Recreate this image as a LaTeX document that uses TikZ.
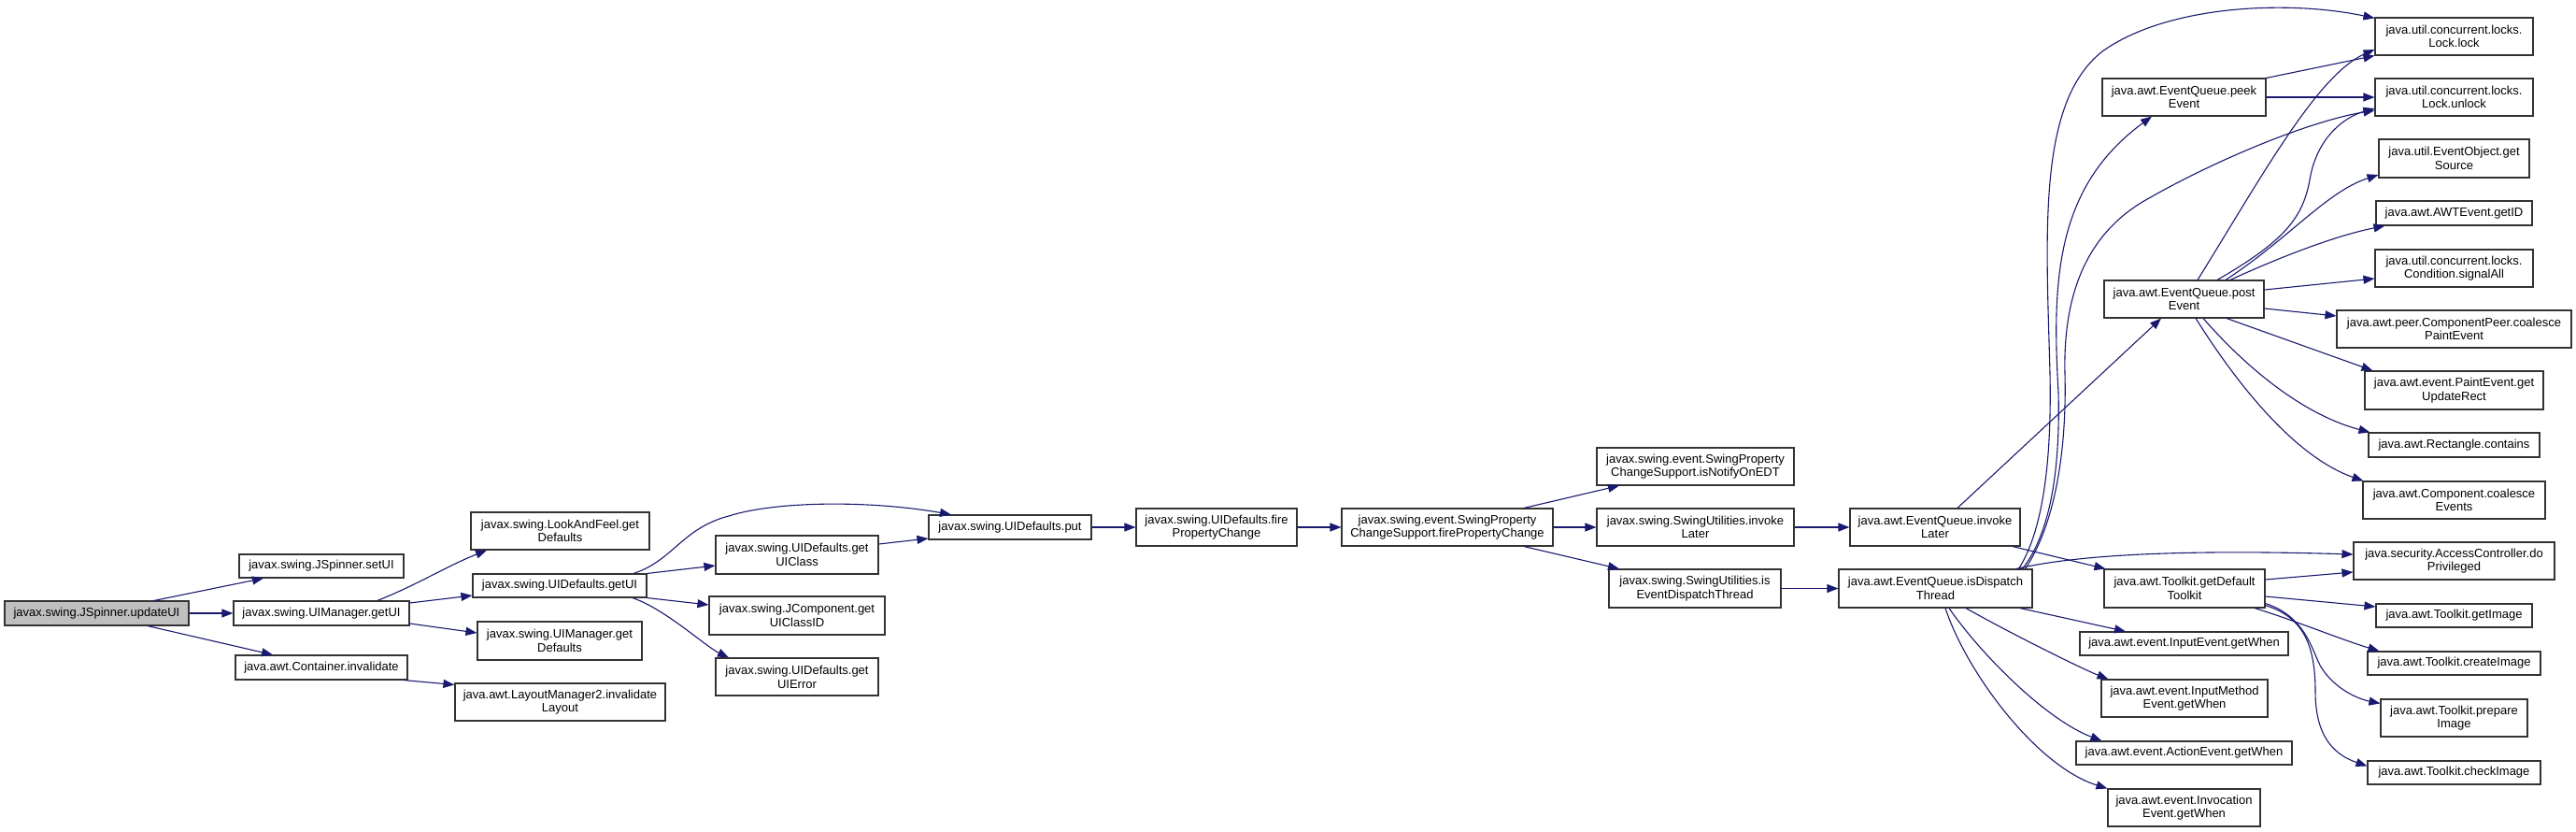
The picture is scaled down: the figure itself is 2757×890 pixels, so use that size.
\documentclass[tikz,border=0pt]{standalone}
\usepackage{fontspec}
\setmainfont{Liberation Sans}
\usetikzlibrary{arrows.meta}
\definecolor{navy}{RGB}{25,25,112}
\definecolor{grayfill}{RGB}{191,191,191}
\tikzset{
  box/.style={draw=black!80, line width=1.1pt, fill=white, align=center, inner sep=0pt,
    font=\fontsize{13}{14.7}\selectfont},
  edge/.style={draw=navy, line width=1.1pt, -{Triangle[length=12pt,width=9pt]}}
}
\newcommand\bx[7][white]{\node[box,fill=#1,minimum width=#5pt,minimum height=#6pt] (#2) at (#3,#4) {#7};}
\begin{document}
\begin{tikzpicture}[x=1pt,y=-1pt]
\useasboundingbox (0,0) rectangle (2757,890);
% nodes
\bx[grayfill]{updateUI}{103.5}{656}{197}{26}{javax.swing.JSpinner.updateUI}
\bx{setUI}{344}{605.5}{176}{25}{javax.swing.JSpinner.setUI}
\bx{mgetUI}{344}{656}{188}{26}{javax.swing.UIManager.getUI}
\bx{cinval}{344}{714}{184}{26}{java.awt.Container.invalidate}
\bx{lafdef}{599.5}{568}{191}{40}{javax.swing.LookAndFeel.get\\Defaults}
\bx{dgetUI}{599}{626.5}{186}{25}{javax.swing.UIDefaults.getUI}
\bx{mgetdef}{599}{685.5}{176}{41}{javax.swing.UIManager.get\\Defaults}
\bx{lminv}{599.5}{751}{225}{40}{java.awt.LayoutManager2.invalidate\\Layout}
\bx{getUIClass}{853}{593.5}{174}{41}{javax.swing.UIDefaults.get\\UIClass}
\bx{getUIClassID}{853}{658.5}{188}{41}{javax.swing.JComponent.get\\UIClassID}
\bx{getUIError}{853}{724}{174}{40}{javax.swing.UIDefaults.get\\UIError}
\bx{put}{1081}{564}{174}{26}{javax.swing.UIDefaults.put}
\bx{fpc}{1302}{564}{172}{40}{javax.swing.UIDefaults.fire\\PropertyChange}
\bx{spcs}{1549}{564}{226}{40}{javax.swing.event.SwingProperty\\ChangeSupport.firePropertyChange}
\bx{notify}{1814.5}{499}{211}{40}{javax.swing.event.SwingProperty\\ChangeSupport.isNotifyOnEDT}
\bx{suInvoke}{1814.5}{564}{211}{40}{javax.swing.SwingUtilities.invoke\\Later}
\bx{suIsEDT}{1814}{629.5}{184}{41}{javax.swing.SwingUtilities.is\\EventDispatchThread}
\bx{eqInvoke}{2071}{564}{182}{40}{java.awt.EventQueue.invoke\\Later}
\bx{eqIsDT}{2071.5}{629.5}{207}{41}{java.awt.EventQueue.isDispatch\\Thread}
\bx{peek}{2337.5}{104}{175}{40}{java.awt.EventQueue.peek\\Event}
\bx{post}{2337.5}{320}{171}{40}{java.awt.EventQueue.post\\Event}
\bx{defTk}{2338}{629.5}{172}{41}{java.awt.Toolkit.getDefault\\Toolkit}
\bx{inputWhen}{2337.5}{688.5}{223}{25}{java.awt.event.InputEvent.getWhen}
\bx{imWhen}{2338}{747}{178}{40}{java.awt.event.InputMethod\\Event.getWhen}
\bx{actWhen}{2337.5}{805.5}{231}{25}{java.awt.event.ActionEvent.getWhen}
\bx{invWhen}{2337.5}{864}{163}{40}{java.awt.event.Invocation\\Event.getWhen}
\bx{lock}{2626.5}{39}{169}{40}{java.util.concurrent.locks.\\Lock.lock}
\bx{unlock}{2626.5}{104}{169}{40}{java.util.concurrent.locks.\\Lock.unlock}
\bx{getSource}{2626.5}{169.5}{161}{41}{java.util.EventObject.get\\Source}
\bx{getID}{2626.5}{228}{167}{26}{java.awt.AWTEvent.getID}
\bx{signalAll}{2626.5}{287}{169}{40}{java.util.concurrent.locks.\\Condition.signalAll}
\bx{coalPaint}{2626.5}{352}{251}{40}{java.awt.peer.ComponentPeer.coalesce\\PaintEvent}
\bx{updRect}{2626.5}{417.5}{191}{41}{java.awt.event.PaintEvent.get\\UpdateRect}
\bx{rectContains}{2626.5}{476}{183}{26}{java.awt.Rectangle.contains}
\bx{coalEvents}{2626.5}{535}{195}{40}{java.awt.Component.coalesce\\Events}
\bx{doPriv}{2626.5}{600}{215}{40}{java.security.AccessController.do\\Privileged}
\bx{getImage}{2626.5}{658.5}{167}{25}{java.awt.Toolkit.getImage}
\bx{createImage}{2626.5}{709.5}{185}{25}{java.awt.Toolkit.createImage}
\bx{prepareImage}{2626.5}{768}{157}{40}{java.awt.Toolkit.prepare\\Image}
\bx{checkImage}{2626.5}{826.5}{185}{25}{java.awt.Toolkit.checkImage}
% edges
\draw[edge] ([xshift=61.5pt]updateUI.north) -- ([xshift=-62pt]setUI.south);
\draw[edge] (updateUI.east) -- (mgetUI.west);
\draw[edge] ([xshift=54.5pt]updateUI.south) -- ([xshift=-52pt]cinval.north);
\draw[edge] ([xshift=60pt]mgetUI.north) .. controls +(45,-18) and +(-45,18) .. ([xshift=-78.5pt]lafdef.south);
\draw[edge] ([yshift=11pt]mgetUI.east) -- ([yshift=-10.5pt]dgetUI.west);
\draw[edge] ([yshift=-11pt]mgetUI.east) -- ([yshift=8.5pt]mgetdef.west);
\draw[edge] ([xshift=88pt]cinval.south) -- ([yshift=-2pt]lminv.north west);
\draw[edge] ([xshift=79pt]dgetUI.north) .. controls (720,600) and (730,565) .. (780,552) .. controls (830,536) and (930,535) .. ([xshift=-63pt]put.north);
\draw[edge] (dgetUI.north east) -- ([yshift=-11.5pt]getUIClass.west);
\draw[edge] (dgetUI.south east) -- ([yshift=11.5pt]getUIClassID.west);
\draw[edge] ([xshift=78pt]dgetUI.south) .. controls +(35,12) and +(-25,-12) .. ([xshift=-73pt]getUIError.north);
\draw[edge] ([yshift=11.5pt]getUIClass.east) -- ([yshift=-12pt]put.west);
\draw[edge] (put.east) -- (fpc.west);
\draw[edge] (fpc.east) -- (spcs.west);
\draw[edge] ([xshift=82pt]spcs.north) -- ([xshift=-81.5pt]notify.south);
\draw[edge] (spcs.east) -- (suInvoke.west);
\draw[edge] ([xshift=82pt]spcs.south) -- ([xshift=-81pt]suIsEDT.north);
\draw[edge] (suInvoke.east) -- (eqInvoke.west);
\draw[edge] (suIsEDT.east) -- (eqIsDT.west);
\draw[edge] ([xshift=24pt]eqInvoke.north) -- ([xshift=-24.5pt]post.south);
\draw[edge] ([xshift=83pt]eqInvoke.south) -- ([xshift=2pt]defTk.north west);
\draw[edge] ([xshift=93pt]eqIsDT.north) .. controls (2195,570) and (2205,500) .. (2203,420) .. controls (2196,300) and (2200,200) .. ([xshift=-34.5pt]peek.south);
\draw[edge] ([xshift=89pt]eqIsDT.north) .. controls (2185,570) and (2196,500) .. (2194,400) .. controls (2190,250) and (2180,110) .. (2250,55) .. controls (2320,5) and (2450,0) .. ([yshift=-1pt]lock.north west);
\draw[edge] ([xshift=96pt]eqIsDT.north) .. controls (2200,560) and (2212,480) .. (2210,400) .. controls (2208,320) and (2230,250) .. (2300,212) .. controls (2370,172) and (2470,130) .. ([yshift=-14pt]unlock.west);
\draw[edge] ([xshift=86.5pt]eqIsDT.north) .. controls (2230,592) and (2350,588) .. ([yshift=7pt]doPriv.west);
\draw[edge] ([xshift=90.5pt]eqIsDT.south) -- ([xshift=-62.5pt]inputWhen.north);
\draw[edge] ([xshift=32.5pt]eqIsDT.south) .. controls (2160,682) and (2232,717) .. ([xshift=8pt]imWhen.north west);
\draw[edge] ([xshift=14.5pt]eqIsDT.south) .. controls (2120,700) and (2190,770) .. ([xshift=28pt]actWhen.north west);
\draw[edge] ([xshift=10.5pt]eqIsDT.south) .. controls (2105,720) and (2180,820) .. (invWhen.north west);
\draw[edge] (peek.north east) -- (lock.south west);
\draw[edge] (peek.east) -- (unlock.west);
\draw[edge] ([xshift=14.5pt]post.north) .. controls (2420,190) and (2480,80) .. ([yshift=-14pt]lock.west);
\draw[edge] ([xshift=35.5pt]post.north) .. controls (2450,255) and (2466,230) .. (2473,187) .. controls (2482,145) and (2510,125) .. ([yshift=-12pt]unlock.west);
\draw[edge] ([xshift=44.5pt]post.north) .. controls (2450,255) and (2490,205) .. ([yshift=-17.5pt]getSource.west);
\draw[edge] ([xshift=49.5pt]post.north) .. controls (2440,275) and (2500,252) .. ([xshift=10pt]getID.south west);
\draw[edge] ([yshift=10pt]post.east) -- ([yshift=-11pt]signalAll.west);
\draw[edge] ([yshift=-10pt]post.east) -- ([yshift=14pt]coalPaint.west);
\draw[edge] ([xshift=45.5pt]post.south) -- ([xshift=9pt]updRect.north west);
\draw[edge] ([xshift=20.5pt]post.south) .. controls (2410,400) and (2470,445) .. ([xshift=2pt]rectContains.north west);
\draw[edge] ([xshift=12.5pt]post.south) .. controls (2400,420) and (2460,490) .. ([xshift=1pt]coalEvents.north west);
\draw[edge] ([yshift=9.5pt]defTk.east) -- ([yshift=-12pt]doPriv.west);
\draw[edge] ([yshift=-8.5pt]defTk.east) -- ([yshift=9.5pt]getImage.west);
\draw[edge] ([xshift=75pt]defTk.south) .. controls +(40,12) and +(-40,-12) .. ([xshift=13pt]createImage.north west);
\draw[edge] ([yshift=5pt]defTk.south east) .. controls (2470,660) and (2475,700) .. (2485,715) .. controls (2500,738) and (2525,748) .. ([yshift=-5pt]prepareImage.north west);
\draw[edge] ([yshift=3pt]defTk.south east) .. controls (2465,660) and (2478,690) .. (2478,740) .. controls (2478,790) and (2500,808) .. ([yshift=-6pt]checkImage.north west);
\end{tikzpicture}
\end{document}
